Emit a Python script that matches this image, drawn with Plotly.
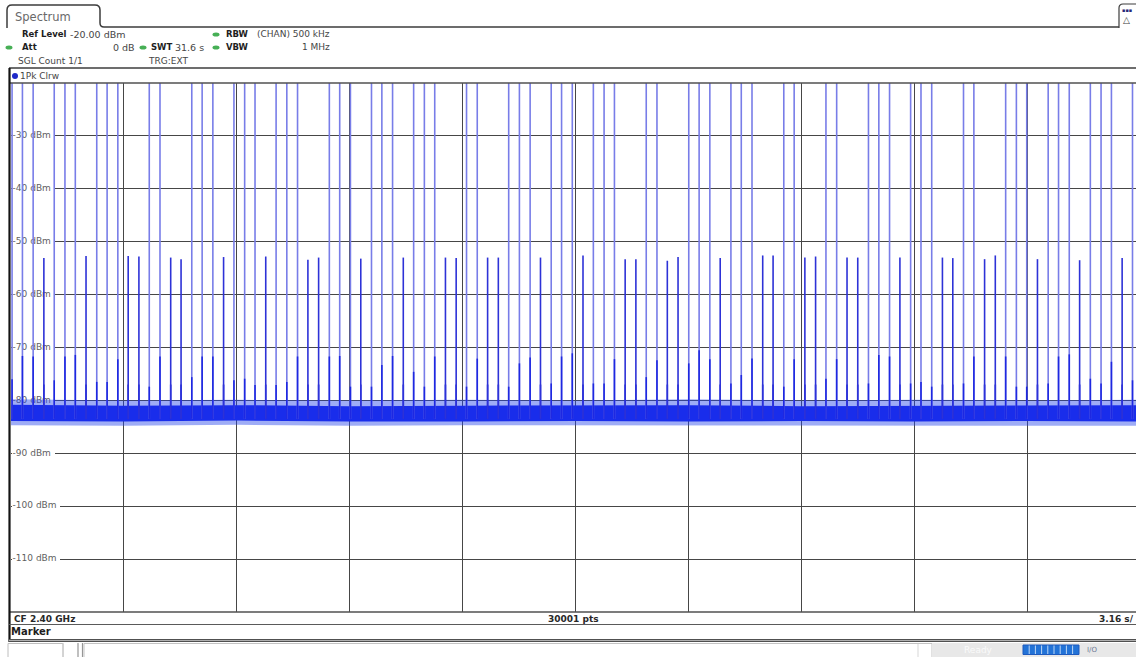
import plotly.graph_objects as go

# ---------------------------------------------------------------------------
# Zero-span sweep: 2.40 GHz carrier, 31.6 s sweep, 3.16 s/div
# ---------------------------------------------------------------------------
span_end_s = 31.488          # right edge of the visible trace window (s)

# burst positions along the sweep (s)
spike_time_s = [
    0.03, 0.32, 0.62, 0.92, 1.21, 1.51, 1.80, 2.10, 2.40, 2.69,
    2.99, 3.28, 3.58, 3.87, 4.17, 4.47, 4.76, 5.06, 5.35, 5.65,
    5.95, 6.24, 6.54, 6.83, 7.13, 7.42, 7.72, 8.02, 8.31, 8.61,
    8.91, 9.20, 9.50, 9.79, 10.09, 10.38, 10.68, 10.98, 11.27, 11.57,
    11.86, 12.16, 12.46, 12.75, 13.05, 13.34, 13.64, 13.93, 14.23, 14.53,
    14.82, 15.12, 15.41, 15.71, 16.01, 16.30, 16.60, 16.89, 17.19, 17.49,
    17.78, 18.08, 18.37, 18.67, 18.97, 19.26, 19.56, 19.85, 20.15, 20.44,
    20.74, 21.04, 21.33, 21.63, 21.92, 22.22, 22.52, 22.81, 23.11, 23.40,
    23.70, 24.00, 24.29, 24.59, 24.88, 25.18, 25.47, 25.77, 26.07, 26.36,
    26.66, 26.95, 27.25, 27.55, 27.84, 28.14, 28.43, 28.73, 29.03, 29.32,
    29.62, 29.91, 30.21, 30.51, 30.80, 31.10, 31.39,
]

# burst peak level (dBm); values above the -20 dBm reference are off-screen
spike_peak_dbm = [
    -14, -14, -14, -53.1, -14, -14, -14, -52.7, -14, -14,
    -14, -52.7, -52.8, -14, -14, -53.0, -53.3, -14, -14, -14,
    -52.9, -14, -14, -14, -52.8, -14, -14, -14, -53.4, -53.0,
    -14, -14, -14, -53.2, -14, -14, -14, -53.0, -14, -14,
    -14, -53.0, -53.1, -14, -14, -53.0, -53.0, -14, -14, -14,
    -53.0, -14, -14, -14, -52.6, -14, -14, -14, -53.3, -53.3,
    -14, -14, -53.6, -52.9, -14, -14, -14, -53.1, -14, -14,
    -14, -52.6, -52.6, -14, -14, -53.0, -52.8, -14, -14, -53.0,
    -53.0, -14, -14, -14, -53.0, -14, -14, -14, -53.0, -53.1,
    -14, -14, -53.3, -52.6, -14, -14, -14, -53.3, -14, -14,
    -14, -53.5, -14, -14, -14, -53.1, -14,
]

# level up to which each burst edge is densely sampled (dBm)
spike_skirt_dbm = [
    -76.0, -71.6, -71.7, -77.0, -76.2, -71.7, -71.4, -77.0, -76.5, -76.5,
    -72.2, -77.0, -77.0, -77.4, -71.7, -77.0, -77.0, -75.6, -71.7, -71.7,
    -77.0, -76.2, -75.9, -77.1, -77.0, -77.1, -76.5, -71.7, -77.0, -77.0,
    -71.7, -71.6, -77.4, -77.0, -77.4, -73.3, -71.6, -77.0, -74.6, -77.4,
    -71.7, -77.0, -77.0, -77.4, -72.1, -77.0, -77.0, -77.4, -73.0, -71.9,
    -77.0, -76.8, -71.7, -71.1, -77.0, -76.8, -76.8, -72.2, -77.0, -77.0,
    -75.6, -72.4, -77.0, -77.0, -73.0, -70.5, -72.2, -77.0, -76.8, -75.2,
    -72.1, -77.0, -77.0, -77.4, -72.2, -77.0, -77.0, -75.9, -72.2, -77.0,
    -77.0, -76.8, -71.4, -71.7, -77.0, -76.8, -76.5, -77.4, -77.0, -77.0,
    -76.8, -71.7, -77.0, -77.0, -71.7, -77.4, -77.4, -77.0, -76.8, -71.7,
    -71.3, -77.0, -75.9, -76.8, -72.7, -77.0, -76.2,
]

# noise floor envelope, read per division (dBm)
noise_time_s = [0, 3.16, 6.32, 9.48, 12.64, 15.80, 18.96, 22.12, 25.28, 28.44, 31.488]
noise_upper_dbm = [-80.8, -81.0, -80.9, -81.1, -81.0, -81.0, -80.9, -81.1, -81.0, -81.0, -80.9]
noise_lower_dbm = [-83.9, -84.0, -83.8, -84.0, -84.0, -83.9, -84.0, -83.9, -84.0, -83.9, -84.0]
noise_fringe_upper_dbm = [-79.8, -80.0, -79.9, -80.0, -79.9, -80.0, -79.8, -80.0, -79.9, -80.0, -79.9]
noise_fringe_lower_dbm = [-84.7, -84.8, -84.6, -84.8, -84.7, -84.7, -84.8, -84.7, -84.8, -84.7, -84.8]

level_ticks_dbm = [-30, -40, -50, -60, -70, -80, -90, -100, -110]
level_tick_labels = ["-30 dBm", "-40 dBm", "-50 dBm", "-60 dBm", "-70 dBm",
                     "-80 dBm", "-90 dBm", "-100 dBm", "-110 dBm"]

# ---------------------------------------------------------------------------
FONT = "DejaVu Sans"
GRID = "rgb(70,70,70)"
TRACE_BLUE = "rgb(25,45,235)"
BASE_DBM = -83.5

W_FIG, H_FIG = 1136, 657
L, T, B = 11, 83, 45
PW, PH = W_FIG - L, H_FIG - T - B
S_PER_PX = 3.16 / 112.9


def px(x):
    return (x - L) / PW


def py(y):
    return (T + PH - y) / PH


def vsegments(times, lows, highs):
    xs, ys = [], []
    for t, lo, hi in zip(times, lows, highs):
        xs += [t, t, None]
        ys += [lo, hi, None]
    return xs, ys


fig = go.Figure()

# white patches behind the level labels (drawn over the grid, under the trace)
bx, by = [], []
for lv, txt in zip(level_ticks_dbm, level_tick_labels):
    x0 = (12 - L) * S_PER_PX
    x1 = ((55 if len(txt) < 8 else 60) - L) * S_PER_PX
    bx += [x0, x1, x1, x0, x0, None]
    by += [lv - 0.9, lv - 0.9, lv + 0.9, lv + 0.9, lv - 0.9, None]
fig.add_trace(go.Scatter(x=bx, y=by, mode="lines", fill="toself", fillcolor="white",
                         line=dict(width=0), hoverinfo="skip", showlegend=False))

# level labels sit under the trace
fig.add_trace(go.Scatter(
    x=[0.045] * len(level_ticks_dbm), y=level_ticks_dbm, text=level_tick_labels,
    mode="text", textposition="middle right",
    textfont=dict(family=FONT, size=9, color="rgb(95,95,95)"),
    hoverinfo="skip", showlegend=False))

# noise floor: soft fringe, then dense core
fig.add_trace(go.Scatter(x=noise_time_s, y=noise_fringe_lower_dbm, mode="lines",
                         line=dict(width=0), hoverinfo="skip", showlegend=False))
fig.add_trace(go.Scatter(x=noise_time_s, y=noise_fringe_upper_dbm, mode="lines",
                         line=dict(width=0), fill="tonexty",
                         fillcolor="rgba(40,70,235,0.45)", hoverinfo="skip", showlegend=False))
fig.add_trace(go.Scatter(x=noise_time_s, y=noise_lower_dbm, mode="lines",
                         line=dict(width=0), hoverinfo="skip", showlegend=False))
fig.add_trace(go.Scatter(x=noise_time_s, y=noise_upper_dbm, mode="lines",
                         line=dict(width=0), fill="tonexty",
                         fillcolor=TRACE_BLUE, hoverinfo="skip", showlegend=False))

# strong bursts (clipped at the reference level)
tall = [(t, p) for t, p in zip(spike_time_s, spike_peak_dbm) if p > -20]
xs, ys = vsegments([t for t, _ in tall], [BASE_DBM] * len(tall), [p for _, p in tall])
fig.add_trace(go.Scatter(x=xs, y=ys, mode="lines",
                         line=dict(color="rgb(120,125,232)", width=1.6),
                         hoverinfo="skip", showlegend=False))

# dense lower part of each burst
xs, ys = vsegments(spike_time_s, [BASE_DBM] * len(spike_time_s), spike_skirt_dbm)
fig.add_trace(go.Scatter(x=xs, y=ys, mode="lines",
                         line=dict(color="rgb(30,40,225)", width=1.6),
                         hoverinfo="skip", showlegend=False))

# weaker bursts
weak = [(t, p) for t, p in zip(spike_time_s, spike_peak_dbm) if p <= -20]
xs, ys = vsegments([t for t, _ in weak], [BASE_DBM] * len(weak), [p for _, p in weak])
fig.add_trace(go.Scatter(x=xs, y=ys, mode="lines",
                         line=dict(color="rgb(45,50,215)", width=1.6),
                         hoverinfo="skip", showlegend=False))

shapes = []
annotations = []


def line(x0, y0, x1, y1, color="rgb(60,60,60)", width=1):
    shapes.append(dict(type="line", xref="paper", yref="paper",
                       x0=px(x0), y0=py(y0), x1=px(x1), y1=py(y1),
                       line=dict(color=color, width=width)))


def rect(x0, y0, x1, y1, fill="white", color="rgba(0,0,0,0)", width=1):
    shapes.append(dict(type="rect", xref="paper", yref="paper",
                       x0=px(x0), y0=py(y0), x1=px(x1), y1=py(y1),
                       fillcolor=fill, line=dict(color=color, width=width)))


def dot(x, y, rx, ry, color):
    shapes.append(dict(type="circle", xref="paper", yref="paper",
                       x0=px(x - rx), y0=py(y + ry), x1=px(x + rx), y1=py(y - ry),
                       fillcolor=color, line=dict(width=0)))


def label(text, x, y, size=9.5, color="rgb(70,70,70)", anchor="left"):
    annotations.append(dict(text=text, xref="paper", yref="paper",
                            x=px(x), y=py(y), xanchor=anchor, yanchor="middle",
                            showarrow=False, borderpad=0,
                            font=dict(family=FONT, size=size, color=color)))


# tab and title bar
path = (f"M {px(7)},{py(28)} L {px(7)},{py(10)} Q {px(7)},{py(5)} {px(12)},{py(5)} "
        f"L {px(95)},{py(5)} Q {px(100)},{py(5)} {px(100)},{py(10)} "
        f"L {px(100)},{py(23)} Q {px(100)},{py(27)} {px(104)},{py(27)} L {px(1119)},{py(27)}")
shapes.append(dict(type="path", xref="paper", yref="paper", path=path,
                   line=dict(color="rgb(60,60,60)", width=1.5)))
icon = (f"M {px(1119)},{py(28)} L {px(1119)},{py(8)} Q {px(1119)},{py(4)} "
        f"{px(1123)},{py(4)} L {px(1136)},{py(4)}")
shapes.append(dict(type="path", xref="paper", yref="paper", path=icon,
                   line=dict(color="rgb(60,60,60)", width=1.2)))
label("Spectrum", 14, 17, size=11.5, color="rgb(105,105,105)")
label("▪▪▪", 1121, 10, size=5, color="rgb(40,40,120)")
label("△", 1122, 20, size=9, color="rgb(60,60,60)")

# instrument settings
GREEN = "rgb(70,175,85)"
HEAD = "rgb(30,30,30)"
label("<b>Ref Level</b>", 21, 34.5, size=8.5, color=HEAD)
label("-20.00 dBm", 69, 34.5, size=9.5)
dot(216, 34.5, 3.5, 2, GREEN)
label("<b>RBW</b>", 225, 34.5, size=8.5, color=HEAD)
label("(CHAN) 500 kHz", 331, 34.5, size=9, anchor="right")
dot(9, 47.5, 3.5, 2, GREEN)
label("<b>Att</b>", 21, 47.5, size=8.5, color=HEAD)
label("0 dB", 136, 47.5, size=9.5, anchor="right")
dot(143, 47.5, 3.5, 2, GREEN)
label("<b>SWT</b>", 150, 47.5, size=8.5, color=HEAD)
label("31.6 s", 205, 47.5, size=9.5, anchor="right")
dot(216, 47.5, 3.5, 2, GREEN)
label("<b>VBW</b>", 225, 47.5, size=8.5, color=HEAD)
label("1 MHz", 331, 47.5, size=9, anchor="right")
label("SGL Count 1/1", 17, 61, size=9)
label("TRG:EXT", 147, 61, size=9)

line(9, 68, 1136, 68, width=1.5)
dot(15, 76, 3, 3, "rgb(30,40,200)")
label("1Pk Clrw", 18.5, 76, size=9)

# trace frame
line(9, 83, 1136, 83, color="rgb(80,80,80)", width=1.5)
line(9, 612, 1136, 612, color="rgb(80,80,80)", width=1.5)
line(9.5, 68, 9.5, 642, color="rgb(20,20,20)", width=2.2)

# footer
label("<b>CF 2.40 GHz</b>", 13, 618.5, size=9, color="rgb(40,40,40)")
label("<b>30001 pts</b>", 573, 618.5, size=9, color="rgb(40,40,40)", anchor="center")
label("<b>3.16 s/</b>", 1135, 618.5, size=9, color="rgb(40,40,40)", anchor="right")
line(9, 624.5, 1136, 624.5, color="rgb(90,90,90)", width=1.2)
label("<b>Marker</b>", 10, 631.5, size=10, color="rgb(30,30,30)")
rect(9, 639, 1136, 642, fill="rgb(80,80,80)")
line(9, 640.5, 1136, 640.5, color="rgb(200,200,200)", width=0.8)

# status row
rect(8, 643.5, 63, 660, fill="white", color="rgb(190,190,190)")
line(63, 643, 63, 657, color="rgb(200,200,200)")
line(78, 643, 78, 657, color="rgb(150,150,150)", width=1.2)
line(82.5, 643, 82.5, 657, color="rgb(150,150,150)", width=1.2)
rect(84, 643.5, 932, 660, fill="white", color="rgb(195,195,195)")
line(918, 644, 918, 657, color="rgb(215,215,215)")
rect(932, 643, 1136, 657, fill="rgb(232,232,232)")
label("Ready", 963, 650, size=9, color="rgb(250,250,250)")
shapes.append(dict(type="rect", xref="paper", yref="paper",
                   x0=px(1023), y0=py(654.5), x1=px(1079), y1=py(645),
                   fillcolor="rgb(35,115,215)", line=dict(color="rgb(30,90,190)", width=1)))
for k in range(1, 9):
    line(1023 + k * 6.2, 645.5, 1023 + k * 6.2, 654, color="rgb(190,215,245)", width=1)
label("I/O", 1086, 650, size=7, color="rgb(110,120,150)")

fig.update_layout(
    width=W_FIG, height=H_FIG,
    margin=dict(l=L, r=0, t=T, b=B, pad=0),
    paper_bgcolor="white", plot_bgcolor="white",
    showlegend=False, shapes=shapes, annotations=annotations,
    xaxis=dict(range=[0, span_end_s], tick0=0, dtick=3.16, showgrid=True,
               gridcolor=GRID, gridwidth=1, showticklabels=False, ticks="",
               zeroline=False, showline=False, fixedrange=True),
    yaxis=dict(range=[-120, -20], tick0=-120, dtick=10, showgrid=True,
               gridcolor=GRID, gridwidth=1, showticklabels=False, ticks="",
               zeroline=False, showline=False, fixedrange=True),
)

fig.write_html("out.html", config={"displayModeBar": False})
